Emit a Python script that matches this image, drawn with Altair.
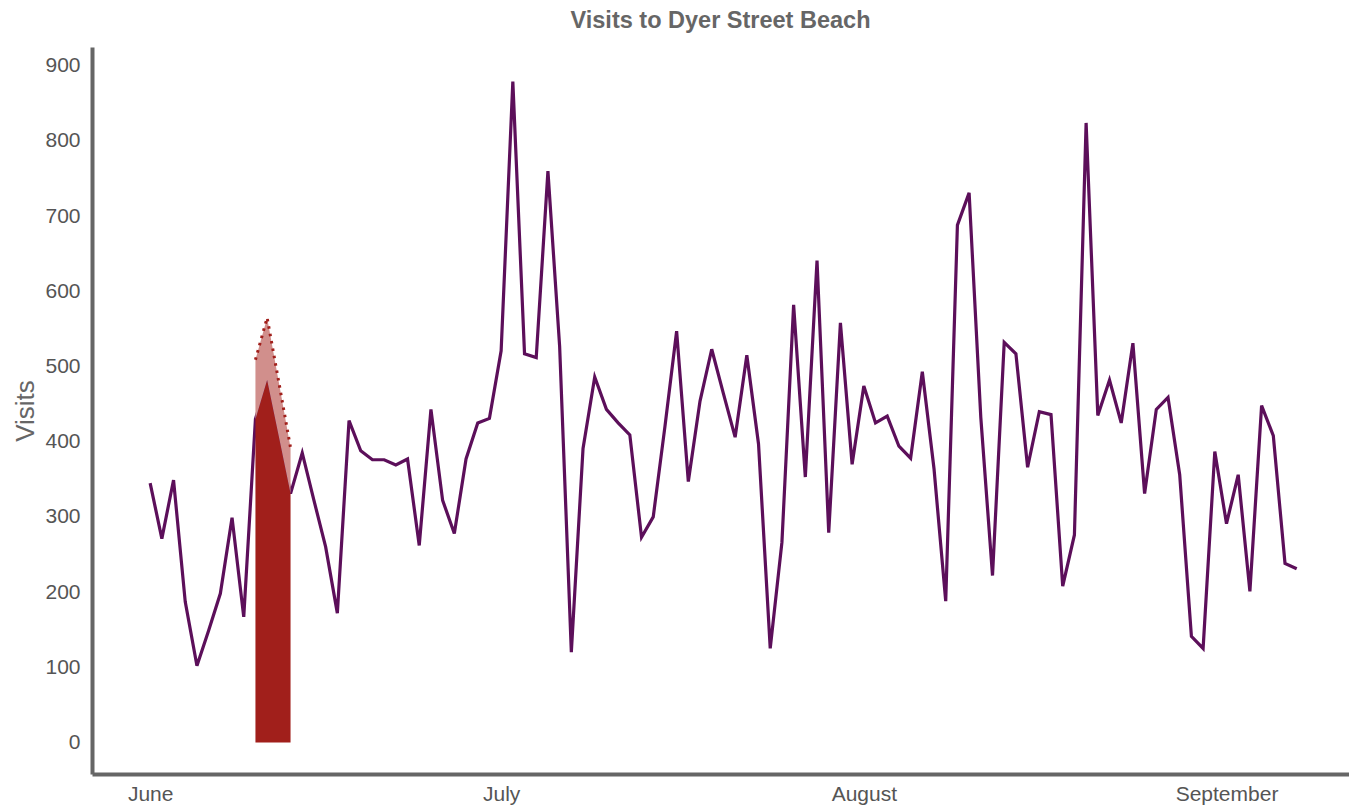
import altair as alt
import pandas as pd

# Daily visits, 1 June - 7 September
start_date = "2023-06-01"
visits = [
    345, 271, 349, 187, 102, 149, 198, 299, 167, 430,
    482, 407, 331, 385, 322, 260, 172, 428, 388, 376,
    376, 369, 377, 262, 443, 322, 278, 377, 425, 431,
    521, 879, 517, 512, 760, 527, 120, 391, 486, 443,
    425, 409, 273, 300, 420, 547, 347, 454, 523, 464,
    406, 515, 397, 125, 266, 582, 353, 641, 279, 558,
    370, 474, 425, 434, 394, 378, 493, 364, 188, 688,
    731, 432, 222, 532, 517, 366, 440, 436, 208, 276,
    824, 435, 482, 425, 531, 331, 443, 459, 356, 141,
    125, 387, 291, 356, 201, 448, 408, 238, 231,
]
dates = pd.date_range(start_date, periods=len(visits), freq="D").strftime("%Y-%m-%dT00:00:00").tolist()

# Highlighted period (10-13 June): actual visits and the higher dotted series
hl_dates = ["2023-06-10T00:00:00", "2023-06-11T00:00:00", "2023-06-12T00:00:00", "2023-06-13T00:00:00"]
hl_actual = [430, 482, 407, 331]
hl_expected = [509, 565, 479, 392]
hl_base = [0, 0, 0, 0]

y_ticks = [0, 100, 200, 300, 400, 500, 600, 700, 800, 900]

FONT = "Liberation Sans"
PURPLE = "#5c0f5a"
RED = "#a11f1b"
PINK = "#d18f8c"

main_df = pd.DataFrame({"date": dates, "visits": visits})
hl_df = pd.DataFrame({"date": hl_dates, "actual": hl_actual, "expected": hl_expected, "base": hl_base})

x_scale = alt.Scale(domain=[alt.DateTime(year=2023, month=5, date=27, hours=0, minutes=43),
                            alt.DateTime(year=2023, month=9, date=11, hours=11, minutes=17)])
y_scale = alt.Scale(domain=[-42, 925], nice=False, zero=False)

x_axis = alt.Axis(
    values=[alt.DateTime(year=2023, month=m, date=1) for m in [6, 7, 8, 9]],
    format="%B", title=None, labelFontSize=21, labelColor="#555555", labelFont=FONT,
    labelPadding=9, labelFlush=False, labelAlign="center",
    ticks=False, tickSize=0, grid=False, domainColor="#666666", domainWidth=4,
)
y_axis = alt.Axis(
    values=y_ticks, title="Visits", titleFontSize=26, titleFontWeight="normal",
    titleColor="#666666", titleFont=FONT, titleAngle=-90, titleAlign="center",
    titleBaseline="alphabetic", titleX=-59, titleY=363.5,
    labelFontSize=21, labelColor="#555555", labelFont=FONT, labelPadding=12,
    ticks=False, tickSize=0, grid=False, domainColor="#666666", domainWidth=4,
)

X = alt.X("date:T", scale=x_scale, axis=x_axis, title=None)

line = alt.Chart(main_df).mark_line(color=PURPLE, strokeWidth=3.2).encode(
    x=X,
    y=alt.Y("visits:Q", scale=y_scale, axis=y_axis, title="Visits"),
)

dark_area = alt.Chart(hl_df).mark_area(color=RED, opacity=1).encode(
    x=X,
    y=alt.Y("actual:Q", scale=y_scale, axis=y_axis, title="Visits"),
    y2=alt.Y2("base:Q"),
)

pink_area = alt.Chart(hl_df).mark_area(color=PINK, opacity=1).encode(
    x=X,
    y=alt.Y("actual:Q", scale=y_scale, axis=y_axis, title="Visits"),
    y2=alt.Y2("expected:Q"),
)

dotted = alt.Chart(hl_df).mark_line(color=RED, strokeWidth=3, strokeDash=[2.5, 5]).encode(
    x=X,
    y=alt.Y("expected:Q", scale=y_scale, axis=y_axis, title="Visits"),
)

chart = alt.layer(line, dark_area, pink_area, dotted).properties(
    width=1257,
    height=727,
    autosize=alt.AutoSizeParams(type="none"),
    padding={"left": 84, "top": 39, "right": 0, "bottom": 34},
    background="white",
    title=alt.TitleParams(
        "Visits to Dyer Street Beach", fontSize=23.5, fontWeight="bold", color="#666666",
        font=FONT, anchor="middle", baseline="alphabetic", offset=-4,
    ),
).configure_view(strokeWidth=0)

chart.save("out.html", embed_options={"renderer": "svg", "actions": False})
